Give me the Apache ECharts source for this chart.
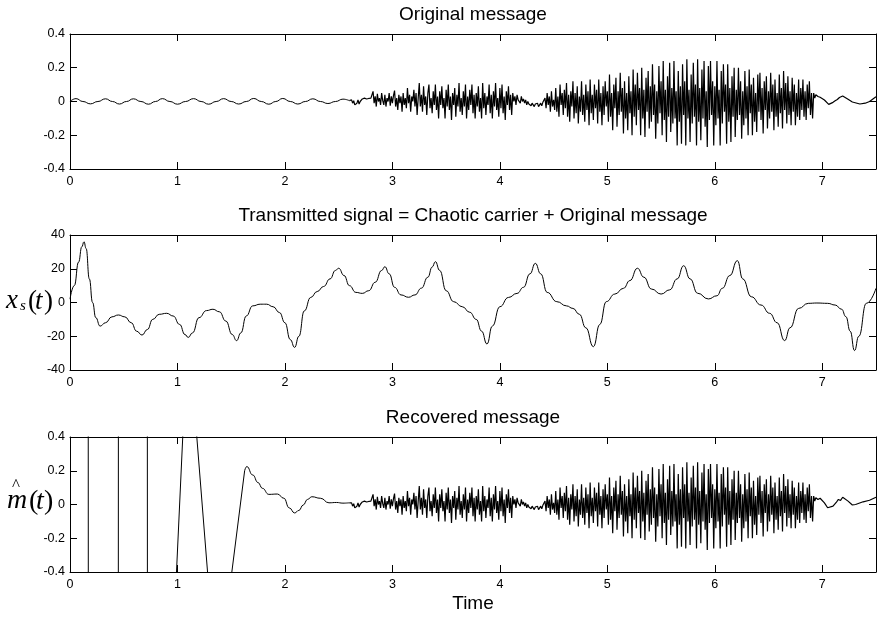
<!DOCTYPE html>
<html>
<head>
<meta charset="utf-8">
<script src="https://cdn.jsdelivr.net/npm/echarts@6/dist/echarts.min.js"></script>
<style>
  html, body { margin: 0; padding: 0; background: #fff; }
  #chart { width: 878px; height: 618px; }
</style>
</head>
<body>
<div id="chart"></div>
<script>
// Tick positions
const timeTicks = [0, 1, 2, 3, 4, 5, 6, 7];
const messageTicks = [-0.4, -0.2, 0, 0.2, 0.4];
const signalTicks = [-40, -20, 0, 20, 40];

// Original message: slow low-level tone before the voice burst, [time, value]
const messageSlow = [
  [0, 0.0], [0.056, 0.017], [0.12, 0.0], [0.19, -0.014], [0.26, 0.0], [0.33, 0.016],
  [0.395, 0.0], [0.46, -0.015], [0.525, 0.0], [0.59, 0.016], [0.66, 0.0], [0.73, -0.016],
  [0.795, 0.0], [0.86, 0.017], [0.93, 0.0], [1.0, -0.016], [1.075, 0.0], [1.15, 0.017],
  [1.22, 0.0], [1.29, -0.016], [1.36, 0.0], [1.43, 0.017], [1.5, 0.0], [1.57, -0.015],
  [1.64, 0.0], [1.71, 0.018], [1.78, 0.0], [1.85, -0.016], [1.915, 0.0], [1.98, 0.018],
  [2.05, 0.0], [2.12, -0.015], [2.19, 0.0], [2.26, 0.016], [2.33, 0.0], [2.4, -0.012],
  [2.47, 0.0], [2.54, 0.014], [2.6, 0.005]
];

// Voice burst samples (one every 0.01 s from 2.62 s), shared by the original and the recovered message
const burstStart = 2.62;
const burstStep = 0.01;
const burst = [
  0.01, -0.01, 0.005, -0.02, -0.03, -0.01, 0.01, -0.015, 0.0, 0.01,
  0.015, 0.005, 0.02, 0.01, 0.015, 0.012, 0.018, 0.015, 0.02, 0.015,
  0.06, -0.01, 0.03, -0.03, 0.045, 0.0, 0.02, -0.02, 0.05, 0.005,
  -0.02, 0.04, -0.03, 0.02, 0.0, 0.05, -0.025, 0.03, -0.01, 0.035,
  0.065, -0.03, 0.02, -0.05, 0.04, -0.01, 0.03, -0.06, 0.05, -0.02,
  0.02, -0.04, 0.08, -0.01, 0.04, -0.06, 0.03, 0.0, 0.07, -0.03,
  0.05, -0.08, 0.02, 0.11, -0.03, 0.04, -0.06, 0.09, -0.02, 0.03,
  -0.08, 0.05, 0.1, -0.04, 0.02, -0.07, 0.06, -0.02, 0.1, -0.05,
  0.03, -0.1, 0.06, -0.02, 0.09, -0.04, 0.02, -0.1, 0.07, -0.03,
  0.1, -0.05, 0.03, -0.11, 0.05, -0.02, 0.08, -0.09, 0.04, -0.03,
  0.11, -0.06, 0.02, -0.08, 0.06, -0.03, 0.1, -0.1, 0.03, -0.05,
  0.07, -0.02, 0.1, -0.07, 0.04, -0.1, 0.05, -0.03, 0.09, -0.06,
  0.02, -0.1, 0.11, -0.04, 0.05, -0.08, 0.03, -0.02, 0.1, -0.07,
  0.04, -0.1, 0.06, -0.03, 0.11, -0.05, 0.02, -0.09, 0.08, -0.04,
  0.1, -0.07, 0.03, -0.11, 0.06, -0.02, 0.09, -0.05, 0.04, -0.08,
  0.05, 0.0, 0.03, -0.02, 0.04, 0.01, 0.02, -0.01, 0.03, 0.0,
  0.015, -0.01, 0.01, -0.02, 0.0, -0.015, -0.005, -0.025, -0.01, -0.02,
  -0.03, -0.015, -0.025, -0.01, -0.03, -0.02, -0.01, -0.025, -0.005, -0.015,
  0.02, -0.04, 0.05, -0.02, 0.03, -0.06, 0.06, -0.03, 0.01, -0.05,
  0.08, -0.06, 0.03, -0.09, 0.1, -0.02, 0.05, -0.08, 0.07, -0.04,
  0.11, -0.09, 0.04, -0.12, 0.06, -0.03, 0.12, -0.1, 0.05, -0.07,
  0.09, -0.13, 0.03, -0.06, 0.12, -0.08, 0.04, -0.12, 0.1, -0.05,
  0.06, -0.14, 0.13, -0.07, 0.04, -0.11, 0.1, -0.04, 0.07, -0.13,
  0.13, -0.06, 0.05, -0.14, 0.09, -0.08, 0.12, -0.03, 0.06, -0.12,
  0.16, -0.09, 0.05, -0.17, 0.1, -0.04, 0.14, -0.15, 0.06, -0.08,
  0.17, -0.06, 0.08, -0.19, 0.12, -0.1, 0.05, -0.17, 0.15, -0.07,
  0.06, -0.2, 0.19, -0.09, 0.1, -0.14, 0.17, -0.05, 0.08, -0.2,
  0.2, -0.1, 0.07, -0.21, 0.14, -0.06, 0.18, -0.16, 0.09, -0.12,
  0.22, -0.08, 0.1, -0.22, 0.06, -0.13, 0.21, -0.07, 0.12, -0.2,
  0.24, -0.11, 0.07, -0.24, 0.15, -0.09, 0.23, -0.18, 0.08, -0.13,
  0.24, -0.1, 0.06, -0.26, 0.18, -0.12, 0.09, -0.25, 0.22, -0.08,
  0.12, -0.26, 0.25, -0.1, 0.07, -0.24, 0.16, -0.13, 0.23, -0.09,
  0.1, -0.26, 0.25, -0.12, 0.08, -0.23, 0.19, -0.1, 0.24, -0.15,
  0.06, -0.27, 0.21, -0.11, 0.24, -0.08, 0.12, -0.26, 0.09, -0.14,
  0.24, -0.1, 0.07, -0.26, 0.18, -0.13, 0.22, -0.06, 0.1, -0.25,
  0.22, -0.12, 0.08, -0.24, 0.15, -0.09, 0.2, -0.21, 0.07, -0.11,
  0.2, -0.08, 0.12, -0.22, 0.06, -0.14, 0.18, -0.1, 0.09, -0.2,
  0.19, -0.07, 0.1, -0.2, 0.14, -0.12, 0.05, -0.18, 0.16, -0.06,
  0.17, -0.11, 0.08, -0.19, 0.12, -0.05, 0.15, -0.16, 0.06, -0.1,
  0.17, -0.06, 0.1, -0.17, 0.13, -0.09, 0.05, -0.15, 0.16, -0.07,
  0.08, -0.16, 0.18, -0.05, 0.11, -0.13, 0.15, -0.08, 0.06, -0.14,
  0.14, -0.06, 0.1, -0.14, 0.05, -0.09, 0.13, -0.11, 0.08, -0.05,
  0.13, -0.09, 0.06, -0.11, 0.1, -0.04, 0.12, -0.08, 0.05, -0.1,
  0.05, 0.02, 0.04, 0.03, 0.03
];

// Original message after the burst, [time, value]
const messageTail = [
  [6.98, 0.025], [7.02, 0.009], [7.06, -0.017], [7.1, -0.005], [7.12, 0.004], [7.14, 0.012],
  [7.16, 0.024], [7.17, 0.016], [7.19, 0.033], [7.24, 0.013], [7.28, -0.003], [7.35, -0.015],
  [7.4, -0.01], [7.44, 0.0], [7.5, 0.028]
];

// Transmitted signal x_s(t), [time, value]
const signal = [
  [0, 2], [0.04, 10], [0.08, 24], [0.11, 33], [0.13, 36], [0.15, 32], [0.18, 14], [0.21, 0],
  [0.24, -9], [0.28, -14], [0.33, -12], [0.39, -8.5], [0.45, -7.4], [0.51, -8.5], [0.57, -12],
  [0.62, -17], [0.67, -19.3], [0.72, -16], [0.77, -10], [0.83, -7], [0.9, -6.4], [0.96, -8],
  [1.02, -13], [1.07, -19], [1.1, -20.7], [1.14, -18], [1.2, -9], [1.27, -4.8], [1.33, -4],
  [1.39, -5.5], [1.45, -11], [1.51, -19], [1.55, -22.6], [1.59, -18], [1.64, -8], [1.7, -2],
  [1.77, -1], [1.83, -1], [1.89, -2.5], [1.95, -6], [2.0, -12], [2.05, -22], [2.09, -26.6],
  [2.13, -20], [2.18, -5], [2.24, 3], [2.3, 6.5], [2.36, 9.5], [2.42, 14], [2.47, 19],
  [2.5, 20.3], [2.55, 16], [2.6, 10], [2.66, 6], [2.72, 5.4], [2.78, 7], [2.84, 12], [2.9, 19],
  [2.93, 21.2], [2.97, 17], [3.02, 9], [3.08, 4.5], [3.15, 3.1], [3.21, 4.5], [3.27, 8.5],
  [3.33, 15], [3.37, 21], [3.4, 24.2], [3.44, 19], [3.5, 7], [3.57, 0.5], [3.65, -2.5],
  [3.72, -5.8], [3.78, -10], [3.83, -17], [3.88, -24.6], [3.93, -14], [4.0, -2.5], [4.08, 3],
  [4.16, 5.4], [4.22, 9], [4.28, 17], [4.33, 23.2], [4.38, 17], [4.44, 6], [4.53, 0.5],
  [4.62, -2], [4.68, -3.5], [4.74, -7], [4.8, -15], [4.87, -26.2], [4.93, -13], [4.99, 0.5],
  [5.07, 5], [5.15, 8.4], [5.21, 13], [5.28, 20.3], [5.34, 15], [5.41, 8], [5.5, 5],
  [5.58, 7.5], [5.65, 14], [5.71, 21.8], [5.77, 14], [5.84, 5.5], [5.94, 2.1], [6.02, 4],
  [6.07, 8.4], [6.14, 16], [6.21, 24.8], [6.26, 14], [6.34, 3.4], [6.43, -1.5], [6.51, -6.4],
  [6.58, -12], [6.65, -22.6], [6.7, -15], [6.78, -3.5], [6.87, -0.5], [6.95, -0.3],
  [7.05, -0.5], [7.12, -1.5], [7.18, -4], [7.22, -8.4], [7.26, -17], [7.3, -28.5],
  [7.34, -20], [7.41, -0.5], [7.5, 8.4]
];

// Recovered message: unsynchronised start, swinging far outside the range, [time, value]
const recoveredJumps = [
  [0, 3], [0.168, 3], [0.172, -3], [0.448, -3], [0.452, 3], [0.718, 3], [0.722, -3],
  [0.97, -3], [0.98, -0.55], [1.06, 0.55], [1.07, 3], [1.16, 3], [1.17, 0.48], [1.29, -0.48],
  [1.3, -3], [1.48, -3], [1.49, -0.48], [1.625, 0.2]
];

// Recovered message settling after synchronisation, [time, value]
const recoveredSettle = [
  [1.625, 0.2], [1.645, 0.225], [1.7, 0.175], [1.75, 0.13], [1.79, 0.096], [1.85, 0.06],
  [1.93, 0.062], [1.99, 0.037], [2.04, -0.02], [2.09, -0.05], [2.13, -0.035], [2.17, -0.003],
  [2.21, 0.03], [2.25, 0.046], [2.33, 0.037], [2.41, 0.01], [2.48, 0.012], [2.54, 0.008],
  [2.6, 0.01]
];

// Recovered message after the burst, [time, value]
const recoveredTail = [
  [6.98, 0.037], [7.02, 0.01], [7.05, -0.019], [7.1, -0.01], [7.13, 0.012], [7.15, 0.03],
  [7.17, 0.024], [7.19, 0.043], [7.24, 0.02], [7.28, -0.003], [7.31, 0.0], [7.38, 0.016],
  [7.44, 0.025], [7.5, 0.043]
];

const burstPairs = burst.map((v, i) => [+(burstStart + i * burstStep).toFixed(3), v]);

const chart = echarts.init(document.getElementById('chart'), null, { renderer: 'canvas' });

const sans = 'Liberation Sans, Arial, Helvetica, sans-serif';
const serif = 'Liberation Serif, Times New Roman, serif';

const panels = [
  { top: 34, ticks: messageTicks, min: -0.4, max: 0.4 },
  { top: 235, ticks: signalTicks, min: -40, max: 40 },
  { top: 437, ticks: messageTicks, min: -0.4, max: 0.4 }
];

const grid = panels.map(p => ({ left: 70, top: p.top, width: 806, height: 135 }));

const axisLine = { show: true, onZero: false, lineStyle: { color: '#000', width: 1 } };
const tick = vals => ({ show: true, inside: true, length: 7, customValues: vals, lineStyle: { color: '#000', width: 1 } });
const labelFont = { color: '#000', fontSize: 12.5, fontFamily: sans };

const xAxis = [];
const yAxis = [];
panels.forEach((p, i) => {
  xAxis.push({
    type: 'value', gridIndex: i, position: 'bottom', min: 0, max: 7.5,
    axisLine, axisTick: tick(timeTicks), splitLine: { show: false },
    axisLabel: Object.assign({ customValues: timeTicks, margin: 6 }, labelFont)
  });
  xAxis.push({
    type: 'value', gridIndex: i, position: 'top', min: 0, max: 7.5,
    axisLine, axisTick: tick(timeTicks), splitLine: { show: false },
    axisLabel: { show: false }
  });
  yAxis.push({
    type: 'value', gridIndex: i, position: 'left', min: p.min, max: p.max,
    axisLine, axisTick: tick(p.ticks), splitLine: { show: false },
    axisLabel: Object.assign({ customValues: p.ticks, margin: 5 }, labelFont)
  });
  yAxis.push({
    type: 'value', gridIndex: i, position: 'right', min: p.min, max: p.max,
    axisLine, axisTick: tick(p.ticks), splitLine: { show: false },
    axisLabel: { show: false }
  });
});

const lineSeries = (panel, data, smooth, width) => ({
  type: 'line', xAxisIndex: panel * 2, yAxisIndex: panel * 2, data,
  smooth: smooth, smoothMonotone: smooth ? 'x' : undefined,
  showSymbol: false, symbol: 'none', clip: true, silent: true,
  lineStyle: { color: '#000', width: width || 1 }
});

const slowEnd = messageSlow[messageSlow.length - 1];
const settleEnd = recoveredSettle[recoveredSettle.length - 1];

const series = [
  lineSeries(0, messageSlow, true),
  lineSeries(0, [slowEnd].concat(burstPairs, messageTail), false, 1.2),
  lineSeries(1, signal, true),
  lineSeries(2, recoveredJumps, false),
  lineSeries(2, recoveredSettle, true),
  lineSeries(2, [settleEnd].concat(burstPairs, recoveredTail), false, 1.2)
];

// Text placed by the middle of its line box
const txt = (text, x, y, font, align) => ({
  type: 'text', x, y, silent: true,
  style: { text, font, fill: '#000', align: align || 'left', verticalAlign: 'middle' }
});

const graphic = [
  txt('Original message', 473, 15, '19px ' + sans, 'center'),
  txt('Transmitted signal = Chaotic carrier + Original message', 473, 216, '19px ' + sans, 'center'),
  txt('Recovered message', 473, 418, '19px ' + sans, 'center'),
  txt('Time', 473, 604, '19px ' + sans, 'center'),
  // x_s(t)
  txt('x', 6, 301, 'italic 27px ' + serif),
  txt('s', 20, 306, 'italic 15px ' + serif),
  txt('(', 28, 302, '27px ' + serif),
  txt('t', 35, 302, 'italic 27px ' + serif),
  txt(')', 44, 302, '27px ' + serif),
  // m-hat(t)
  txt('m', 7, 501, 'italic 28px ' + serif),
  txt('^', 12, 486, '17px ' + serif),
  txt('(', 29, 502, '28px ' + serif),
  txt('t', 36, 502, 'italic 28px ' + serif),
  txt(')', 44, 502, '28px ' + serif)
];

chart.setOption({
  animation: false,
  backgroundColor: '#fff',
  grid, xAxis, yAxis, series, graphic
});
</script>
</body>
</html>
